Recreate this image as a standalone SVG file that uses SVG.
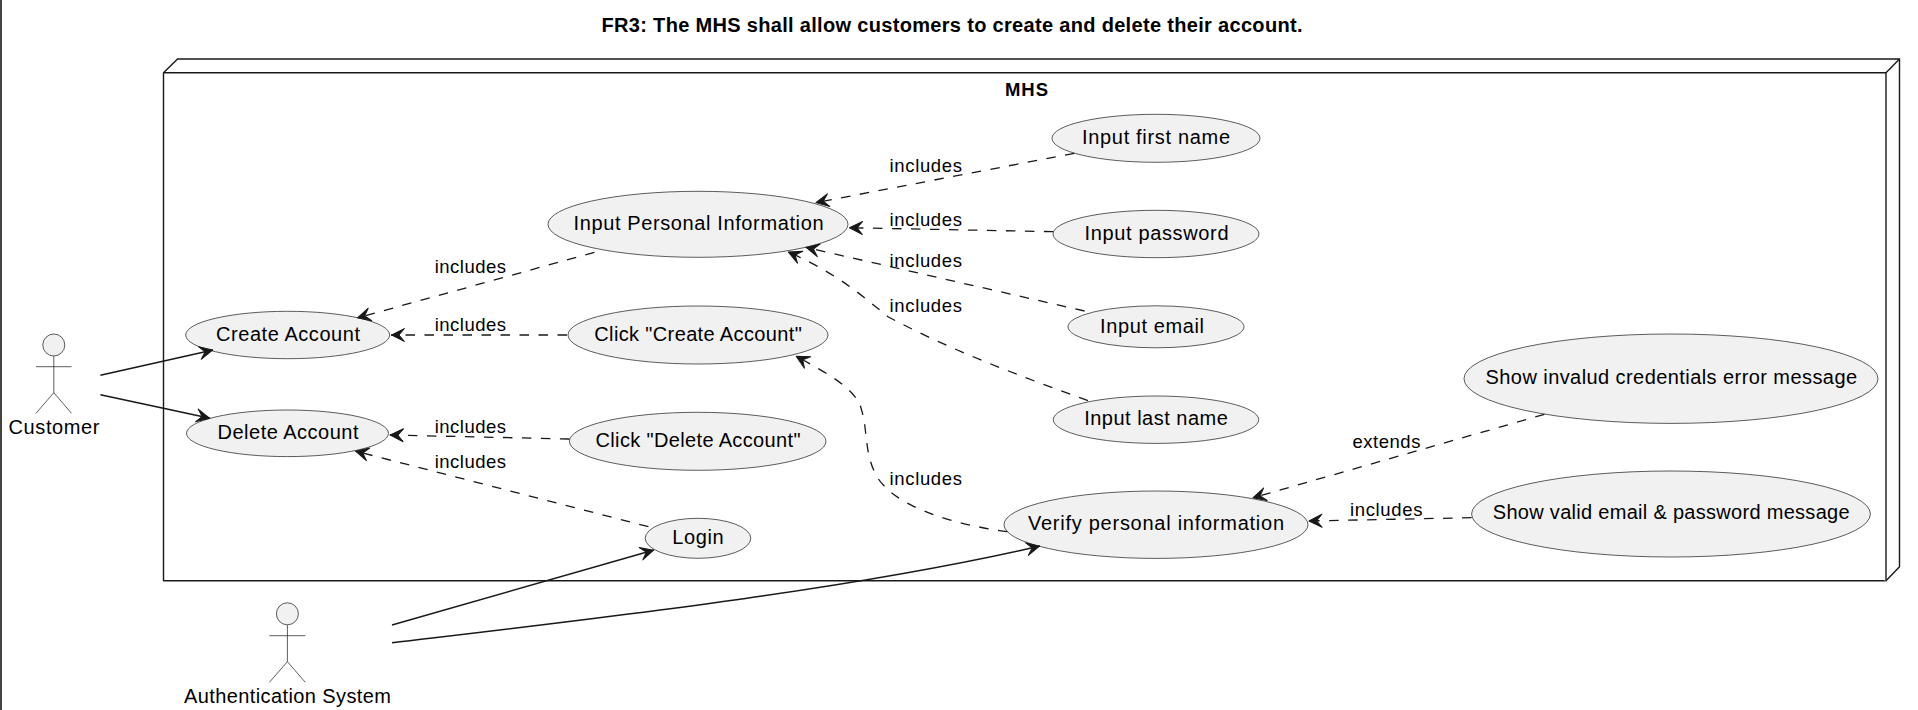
<svg xmlns="http://www.w3.org/2000/svg" width="1918" height="710" viewBox="0 0 1918 710">
<style>
text{font-family:"Liberation Sans",Arial,sans-serif;fill:#000}
.n{font-size:20px;text-anchor:middle}
.l{font-size:18.5px}
.b{font-weight:bold;font-size:20px;text-anchor:middle}
.uc{fill:#F1F1F1;stroke:#181818;stroke-width:.7}
.ac{fill:none;stroke:#181818;stroke-width:.7}
.box{fill:#fff;stroke:#181818;stroke-width:1.4;stroke-linejoin:round}
.e{fill:none;stroke:#181818;stroke-width:1.5;marker-end:url(#a)}
.d{stroke-dasharray:9.5 9.5;stroke-width:1.3}
</style>
<defs><marker id="a" markerUnits="userSpaceOnUse" markerWidth="16" markerHeight="18" refX="14.5" refY="9" orient="auto"><path d="M14,9 L1,2.5 L6.5,9 L1,15.5Z" fill="#181818" stroke="#181818" stroke-width="1" stroke-linejoin="round"/></marker></defs>
<rect width="1918" height="710" fill="#fff"/>
<path d="M1,0V710" fill="none" stroke="#444" stroke-width="2"/>
<text class="b" x="952" y="32" textLength="701">FR3: The MHS shall allow customers to create and delete their account.</text>
<g id="MHS">
<path class="box" d="M163.5,72.7 L177.5,59 H1899.5 V566.7 L1886,580.7 H163.5Z"/>
<path class="box" fill="none" d="M163.5,72.7 H1886 V580.7 M1886,72.7 L1899.5,59"/>
<text class="b" x="1026.5" y="96" style="font-size:18.5px" textLength="43">MHS</text>
</g>
<g id="customer">
<ellipse class="uc" cx="53.8" cy="345" rx="11" ry="11"/>
<path class="ac" d="M53.8,356V392.7M36,366.7H71.5M36,413.3L53.8,392.7L71.5,413.3"/>
<text class="n" x="54" y="433.5" textLength="91">Customer</text>
</g>
<g id="auth">
<ellipse class="uc" cx="287.4" cy="613.8" rx="11" ry="11"/>
<path class="ac" d="M287.4,625V661.7M269.4,635.7H305.3M269.4,682.3L287.4,661.7L305.3,682.3"/>
<text class="n" x="287.5" y="703.2" textLength="207">Authentication System</text>
</g>
<g id="create"><ellipse class="uc" cx="287.7" cy="335" rx="102" ry="23.7"/><text class="n" x="288" y="340.5" textLength="144">Create Account</text></g>
<g id="delete"><ellipse class="uc" cx="287.5" cy="433.3" rx="101" ry="23.3"/><text class="n" x="288" y="438.5" textLength="141">Delete Account</text></g>
<g id="personal"><ellipse class="uc" cx="698" cy="224.3" rx="150" ry="33"/><text class="n" x="698.5" y="229.5" textLength="250">Input Personal Information</text></g>
<g id="clickCreate"><ellipse class="uc" cx="698" cy="335" rx="130" ry="29"/><text class="n" x="698" y="340.5" textLength="207.5">Click "Create Account"</text></g>
<g id="clickDelete"><ellipse class="uc" cx="697.7" cy="441.3" rx="128.3" ry="29"/><text class="n" x="698" y="446.5" textLength="205">Click "Delete Account"</text></g>
<g id="login"><ellipse class="uc" cx="698" cy="538.3" rx="52.8" ry="20"/><text class="n" x="698" y="543.8" textLength="51.4">Login</text></g>
<g id="verify"><ellipse class="uc" cx="1156" cy="524.7" rx="152" ry="33.7"/><text class="n" x="1156" y="529.5" textLength="256">Verify personal information</text></g>
<g id="firstName"><ellipse class="uc" cx="1156" cy="138.3" rx="104" ry="24"/><text class="n" x="1156" y="143.8" textLength="148">Input first name</text></g>
<g id="password"><ellipse class="uc" cx="1156" cy="234" rx="103" ry="23.7"/><text class="n" x="1156.5" y="239.5" textLength="144">Input password</text></g>
<g id="email"><ellipse class="uc" cx="1156" cy="326.8" rx="88" ry="21"/><text class="n" x="1152" y="332.5" textLength="104">Input email</text></g>
<g id="lastName"><ellipse class="uc" cx="1156" cy="419.7" rx="102.7" ry="23.7"/><text class="n" x="1156" y="424.5" textLength="143.6">Input last name</text></g>
<g id="invalid"><ellipse class="uc" cx="1671" cy="378.7" rx="207" ry="44.7"/><text class="n" x="1671.3" y="383.8" textLength="371.5">Show invalud credentials error message</text></g>
<g id="valid"><ellipse class="uc" cx="1671" cy="514" rx="199.4" ry="43"/><text class="n" x="1671.2" y="518.8" textLength="356.8">Show valid email &amp; password message</text></g>
<g id="connectors">
<path class="e" d="M100.4,375.3L213,350"/>
<path class="e" d="M100.4,394.7L210,418.3"/>
<path class="e" d="M392,625L654,550"/>
<path class="e" d="M392,642.7C600,618 850,590 1040,546"/>
<path class="e d" d="M594.5,252.3L357,318"/>
<path class="e d" d="M567,335H391"/>
<path class="e d" d="M569.4,439L389.8,435"/>
<path class="e d" d="M648.4,526.7L355,451"/>
<path class="e d" d="M1074.4,153.3L815.4,202.7"/>
<path class="e d" d="M1053.4,231.7L849,227.7"/>
<path class="e d" d="M1084.6,311L805.6,247.3"/>
<path class="e d" d="M1088,400.7C1020,376 950,350 888,316.7C862,296 840,275 787.8,251.7"/>
<path class="e d" d="M1007.4,531.7C950,524 890,505 875,473C864,450 868,430 861,408C855,388 825,372 795.7,356"/>
<path class="e d" d="M1544.4,414.3L1252.4,498"/>
<path class="e d" d="M1471.6,517.7L1308.5,521"/>
<text class="l" x="434.7" y="273.3" textLength="71.3">includes</text>
<text class="l" x="434.7" y="330.7" textLength="71.3">includes</text>
<text class="l" x="434.7" y="433.3" textLength="71.3">includes</text>
<text class="l" x="434.7" y="468.3" textLength="71.3">includes</text>
<text class="l" x="889.5" y="172.3" textLength="72.5">includes</text>
<text class="l" x="889.5" y="226" textLength="72.5">includes</text>
<text class="l" x="889.5" y="266.7" textLength="72.5">includes</text>
<text class="l" x="889.5" y="311.7" textLength="72.5">includes</text>
<text class="l" x="889.5" y="485" textLength="72.5">includes</text>
<text class="l" x="1352.4" y="448.3" textLength="68">extends</text>
<text class="l" x="1350" y="515.7" textLength="72.4">includes</text>
</g>
</svg>
